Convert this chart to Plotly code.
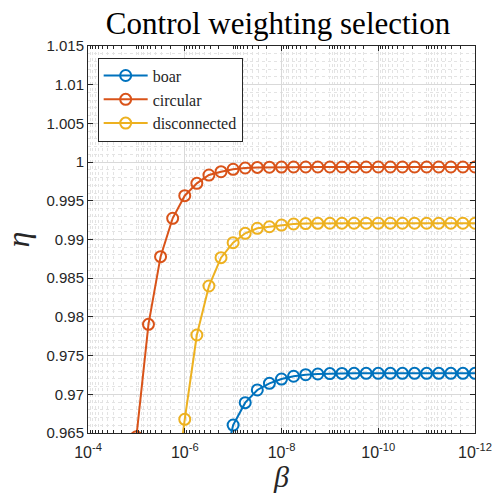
import plotly.graph_objects as go

# log10(beta) exponents, 4 points per decade
circ_exp = [-5 - 0.25 * i for i in range(29)]
circ_eta = [0.9645, 0.97904, 0.98778, 0.99274, 0.99566, 0.99726, 0.99833, 0.99876,
            0.99907, 0.99924, 0.99931, 0.99934, 0.99936, 0.99937, 0.99937, 0.99937,
            0.99937, 0.99937, 0.99937, 0.99937, 0.99937, 0.99937, 0.99937, 0.99937,
            0.99937, 0.99937, 0.99937, 0.99937, 0.99937]

disc_exp = [-5.75 - 0.25 * i for i in range(26)]
disc_eta = [0.955, 0.96677, 0.97766, 0.98399, 0.98765, 0.98959, 0.99080, 0.99145,
            0.99165, 0.99187, 0.99200, 0.99206, 0.99209, 0.99210, 0.99210, 0.99210,
            0.99210, 0.99210, 0.99210, 0.99210, 0.99210, 0.99210, 0.99210, 0.99210,
            0.99210, 0.99210]

boar_exp = [-6.75 - 0.25 * i for i in range(22)]
boar_eta = [0.959, 0.96603, 0.96892, 0.97056, 0.97142, 0.97197, 0.97233, 0.97253,
            0.97262, 0.97268, 0.97270, 0.97271, 0.97271, 0.97271, 0.97271, 0.97271,
            0.97271, 0.97271, 0.97271, 0.97271, 0.97271, 0.97271]

series = [
    ("boar", boar_exp, boar_eta, "#0072BD"),
    ("circular", circ_exp, circ_eta, "#D95319"),
    ("disconnected", disc_exp, disc_eta, "#EDB120"),
]

x_major = [-4, -6, -8, -10, -12]
x_labels = ["10<sup>-4</sup>", "10<sup>-6</sup>", "10<sup>-8</sup>", "10<sup>-10</sup>", "10<sup>-12</sup>"]
y_ticks = [0.965, 0.97, 0.975, 0.98, 0.985, 0.99, 0.995, 1.0, 1.005, 1.01, 1.015]
y_labels = ["0.965", "0.97", "0.975", "0.98", "0.985", "0.99", "0.995", "1", "1.005", "1.01", "1.015"]

fig = go.Figure()
for name, ex, eta, col in series:
    fig.add_trace(go.Scatter(
        x=[10 ** e for e in ex], y=eta, name=name, mode="lines+markers",
        line=dict(color=col, width=2),
        marker=dict(symbol="circle-open", size=11, color=col, line=dict(width=2, color=col)),
    ))

x_minor = []
for d in range(-12, -4):
    for k in range(2, 10):
        x_minor.append(k * 10 ** d)
for d in [-5, -7, -9, -11]:
    x_minor.append(10 ** d)
y_minor = [0.965 + 0.001 * i for i in range(51)]

axis_col = "#262626"
tickfont = dict(family="Liberation Sans, Arial, sans-serif", size=15, color=axis_col)
xtickfont = dict(family="Liberation Sans, Arial, sans-serif", size=16, color=axis_col)

fig.update_layout(
    template="none",
    width=493, height=493,
    margin=dict(l=88, r=18, t=46, b=60),
    paper_bgcolor="white", plot_bgcolor="white",
    title=dict(text="Control weighting selection", x=0.564, xanchor="center", y=0.975, yanchor="top",
               font=dict(family="Liberation Serif, serif", size=31, color="black")),
    xaxis=dict(type="log", range=[-4, -12], tickvals=[10 ** e for e in x_major], ticktext=x_labels,
               automargin=False,
               showgrid=True, gridcolor="#d9d9d9", gridwidth=1,
               showline=True, mirror="ticks", linecolor=axis_col, linewidth=1,
               ticks="inside", ticklen=5, tickcolor=axis_col, tickfont=xtickfont,
               ticklabelstandoff=5,
               minor=dict(tickvals=x_minor, showgrid=True, griddash="dot", gridcolor="#e3e3e3",
                          ticks="inside", ticklen=3, tickcolor=axis_col),
               title=dict(text="<i>β</i>", font=dict(family="Liberation Serif, serif", size=30, color=axis_col),
                          standoff=14),
               zeroline=False),
    yaxis=dict(range=[0.965, 1.015], tickvals=y_ticks, ticktext=y_labels,
               automargin=False,
               showgrid=True, gridcolor="#d9d9d9", gridwidth=1,
               showline=True, mirror="ticks", linecolor=axis_col, linewidth=1,
               ticks="inside", ticklen=5, tickcolor=axis_col, tickfont=tickfont,
               minor=dict(tickvals=y_minor, showgrid=True, griddash="dot", gridcolor="#e3e3e3"),
               title=dict(text="<i>η</i>", font=dict(family="Liberation Serif, serif", size=32, color=axis_col),
                          standoff=8),
               zeroline=False),
    legend=dict(x=0.025, y=0.97, xanchor="left", yanchor="top",
                bgcolor="white", bordercolor=axis_col, borderwidth=1,
                font=dict(family="Liberation Serif, serif", size=16, color=axis_col),
                tracegroupgap=0, itemwidth=44),
    showlegend=True,
)

fig.write_html("out.html")
